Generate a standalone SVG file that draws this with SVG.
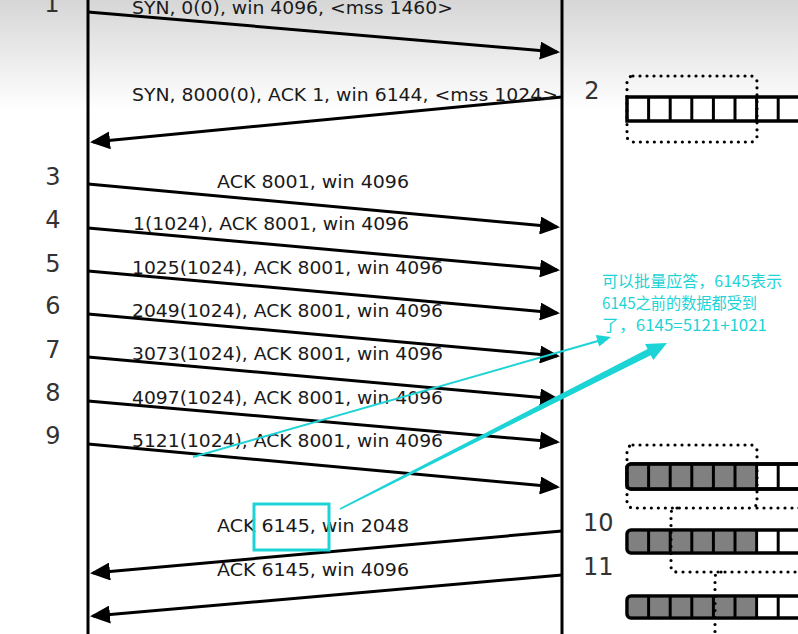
<svg xmlns="http://www.w3.org/2000/svg" width="798" height="634" viewBox="0 0 798 634">
<defs>
<linearGradient id="bg" x1="0" y1="0" x2="0" y2="1">
<stop offset="0" stop-color="#d6d6d6"/>
<stop offset="1" stop-color="#ffffff"/>
</linearGradient>
<marker id="ah" markerUnits="userSpaceOnUse" markerWidth="20" markerHeight="18" refX="17" refY="9" orient="auto">
<path d="M0,0 L20,9 L0,18 z" fill="#000"/>
</marker>
<style>
.lbl{font-family:"DejaVu Sans",Verdana,sans-serif;font-size:18.5px;fill:#1a1a1a}
.num{font-family:"DejaVu Sans",Verdana,sans-serif;font-size:24px;fill:#333}
.msg{stroke:#000;stroke-width:3;fill:none;marker-end:url(#ah)}
.life{stroke:#000;stroke-width:3}
.cell{stroke:#000;stroke-width:3}
.bar{stroke:#000;stroke-width:3.5}
.dot{fill:none;stroke:#000;stroke-width:3.2;stroke-linecap:round;stroke-dasharray:0 7}
.note{font-family:"Microsoft YaHei","Noto Sans CJK SC",sans-serif;font-size:16px;fill:#1cd3d6}
</style>
</defs>
<rect x="0" y="0" width="798" height="110" fill="url(#bg)"/>
<rect x="0" y="110" width="798" height="524" fill="#fff"/>

<g id="lifelines">
<line class="life" x1="88" y1="0" x2="88" y2="634"/>
<line class="life" x1="562" y1="0" x2="562" y2="634"/>
</g>

<g id="connectors">
<line class="msg" x1="88" y1="12" x2="557" y2="52"/>
<line class="msg" x1="562" y1="97" x2="93" y2="142"/>
<line class="msg" x1="88" y1="184" x2="557" y2="227"/>
<line class="msg" x1="88" y1="228" x2="557" y2="270"/>
<line class="msg" x1="88" y1="271" x2="557" y2="313"/>
<line class="msg" x1="88" y1="314" x2="557" y2="356"/>
<line class="msg" x1="88" y1="357" x2="557" y2="399"/>
<line class="msg" x1="88" y1="401" x2="557" y2="442"/>
<line class="msg" x1="88" y1="444" x2="557" y2="487"/>
<line class="msg" x1="562" y1="531" x2="93" y2="573"/>
<line class="msg" x1="562" y1="575" x2="93" y2="616"/>
</g>

<g id="labels">
<text class="lbl" x="132" y="14" textLength="321" lengthAdjust="spacingAndGlyphs">SYN, 0(0), win 4096, &lt;mss 1460&gt;</text>
<text class="lbl" x="132" y="101" textLength="426" lengthAdjust="spacingAndGlyphs">SYN, 8000(0), ACK 1, win 6144, &lt;mss 1024&gt;</text>
<text class="lbl" x="217" y="188" textLength="192" lengthAdjust="spacingAndGlyphs">ACK 8001, win 4096</text>
<text class="lbl" x="133" y="230" textLength="276" lengthAdjust="spacingAndGlyphs">1(1024), ACK 8001, win 4096</text>
<text class="lbl" x="132" y="274" textLength="311" lengthAdjust="spacingAndGlyphs">1025(1024), ACK 8001, win 4096</text>
<text class="lbl" x="132" y="317" textLength="311" lengthAdjust="spacingAndGlyphs">2049(1024), ACK 8001, win 4096</text>
<text class="lbl" x="132" y="360" textLength="311" lengthAdjust="spacingAndGlyphs">3073(1024), ACK 8001, win 4096</text>
<text class="lbl" x="132" y="404" textLength="311" lengthAdjust="spacingAndGlyphs">4097(1024), ACK 8001, win 4096</text>
<text class="lbl" x="132" y="447" textLength="311" lengthAdjust="spacingAndGlyphs">5121(1024), ACK 8001, win 4096</text>
<text class="lbl" x="217" y="532" textLength="192" lengthAdjust="spacingAndGlyphs">ACK 6145, win 2048</text>
<text class="lbl" x="217" y="576" textLength="192" lengthAdjust="spacingAndGlyphs">ACK 6145, win 4096</text>
</g>

<g id="step-numbers">
<text class="num" x="52" y="12" text-anchor="middle">1</text>
<text class="num" x="592" y="99" text-anchor="middle">2</text>
<text class="num" x="53" y="185" text-anchor="middle">3</text>
<text class="num" x="53" y="228" text-anchor="middle">4</text>
<text class="num" x="53" y="272" text-anchor="middle">5</text>
<text class="num" x="53" y="314" text-anchor="middle">6</text>
<text class="num" x="53" y="358" text-anchor="middle">7</text>
<text class="num" x="53" y="401" text-anchor="middle">8</text>
<text class="num" x="53" y="444" text-anchor="middle">9</text>
<text class="num" x="583" y="531">10</text>
<text class="num" x="583" y="575">11</text>
</g>

<g id="buffer-2">
<rect class="bar" x="627" y="97" width="200" height="24" fill="#fff"/>
<g class="cell">
<line x1="648.6" y1="97" x2="648.6" y2="121"/><line x1="670.2" y1="97" x2="670.2" y2="121"/>
<line x1="691.8" y1="97" x2="691.8" y2="121"/><line x1="713.4" y1="97" x2="713.4" y2="121"/>
<line x1="735" y1="97" x2="735" y2="121"/><line x1="756.6" y1="97" x2="756.6" y2="121"/>
<line x1="778.2" y1="97" x2="778.2" y2="121"/>
</g>
<rect class="dot" x="627" y="76" width="130" height="66" rx="6"/>
</g>

<g id="buffer-9">
<rect class="bar" x="627" y="464" width="200" height="25" rx="4" fill="#fff"/>
<rect x="628.5" y="465.5" width="127" height="22" fill="#808080"/>
<g class="cell">
<line x1="648.6" y1="464" x2="648.6" y2="489"/><line x1="670.2" y1="464" x2="670.2" y2="489"/>
<line x1="691.8" y1="464" x2="691.8" y2="489"/><line x1="713.4" y1="464" x2="713.4" y2="489"/>
<line x1="735" y1="464" x2="735" y2="489"/><line x1="756.6" y1="464" x2="756.6" y2="489"/>
<line x1="778.2" y1="464" x2="778.2" y2="489"/>
</g>
<rect class="bar" x="627" y="464" width="200" height="25" rx="4" fill="none"/>
<rect class="dot" x="627" y="445" width="130" height="63" rx="6"/>
</g>

<g id="buffer-10">
<rect x="627" y="530" width="200" height="23" rx="4" fill="#fff"/>
<rect x="628.5" y="531.5" width="127" height="20" fill="#808080"/>
<g class="cell">
<line x1="648.6" y1="530" x2="648.6" y2="553"/><line x1="670.2" y1="530" x2="670.2" y2="553"/>
<line x1="691.8" y1="530" x2="691.8" y2="553"/><line x1="713.4" y1="530" x2="713.4" y2="553"/>
<line x1="735" y1="530" x2="735" y2="553"/><line x1="756.6" y1="530" x2="756.6" y2="553"/>
<line x1="778.2" y1="530" x2="778.2" y2="553"/>
</g>
<rect class="bar" x="627" y="530" width="200" height="23" rx="4" fill="none"/>
<path class="dot" d="M757,508 L810,508 M677,508 Q671,508 671,514 L671,566 Q671,572 677,572 L810,572"/>
</g>

<g id="buffer-11">
<rect x="627" y="596" width="200" height="22" rx="4" fill="#fff"/>
<rect x="628.5" y="597.5" width="127" height="19" fill="#808080"/>
<g class="cell">
<line x1="648.6" y1="596" x2="648.6" y2="618"/><line x1="670.2" y1="596" x2="670.2" y2="618"/>
<line x1="691.8" y1="596" x2="691.8" y2="618"/><line x1="713.4" y1="596" x2="713.4" y2="618"/>
<line x1="735" y1="596" x2="735" y2="618"/><line x1="756.6" y1="596" x2="756.6" y2="618"/>
<line x1="778.2" y1="596" x2="778.2" y2="618"/>
</g>
<rect class="bar" x="627" y="596" width="200" height="22" rx="4" fill="none"/>
<path class="dot" d="M721,572 Q715,572 715,578 L715,640"/>
</g>

<g id="annotation">
<rect x="254" y="504" width="75" height="46" fill="none" stroke="#1cd3d6" stroke-width="3"/>
<line x1="193" y1="457" x2="598" y2="341" stroke="#1cd3d6" stroke-width="2"/>
<polygon points="611,337 599.2,346.6 595.8,335.1" fill="#1cd3d6"/>
<polygon points="339.6,508.3 647.6,349 645.1,344.1 667,343 653.3,360.1 650.8,355.2 340.4,509.7" fill="#1cd3d6"/>
<text class="note" x="602" y="287" textLength="180" lengthAdjust="spacingAndGlyphs">可以批量应答，6145表示</text>
<text class="note" x="602" y="309" textLength="155" lengthAdjust="spacingAndGlyphs">6145之前的数据都受到</text>
<text class="note" x="602" y="331" textLength="165" lengthAdjust="spacingAndGlyphs">了，6145=5121+1021</text>
</g>
</svg>
